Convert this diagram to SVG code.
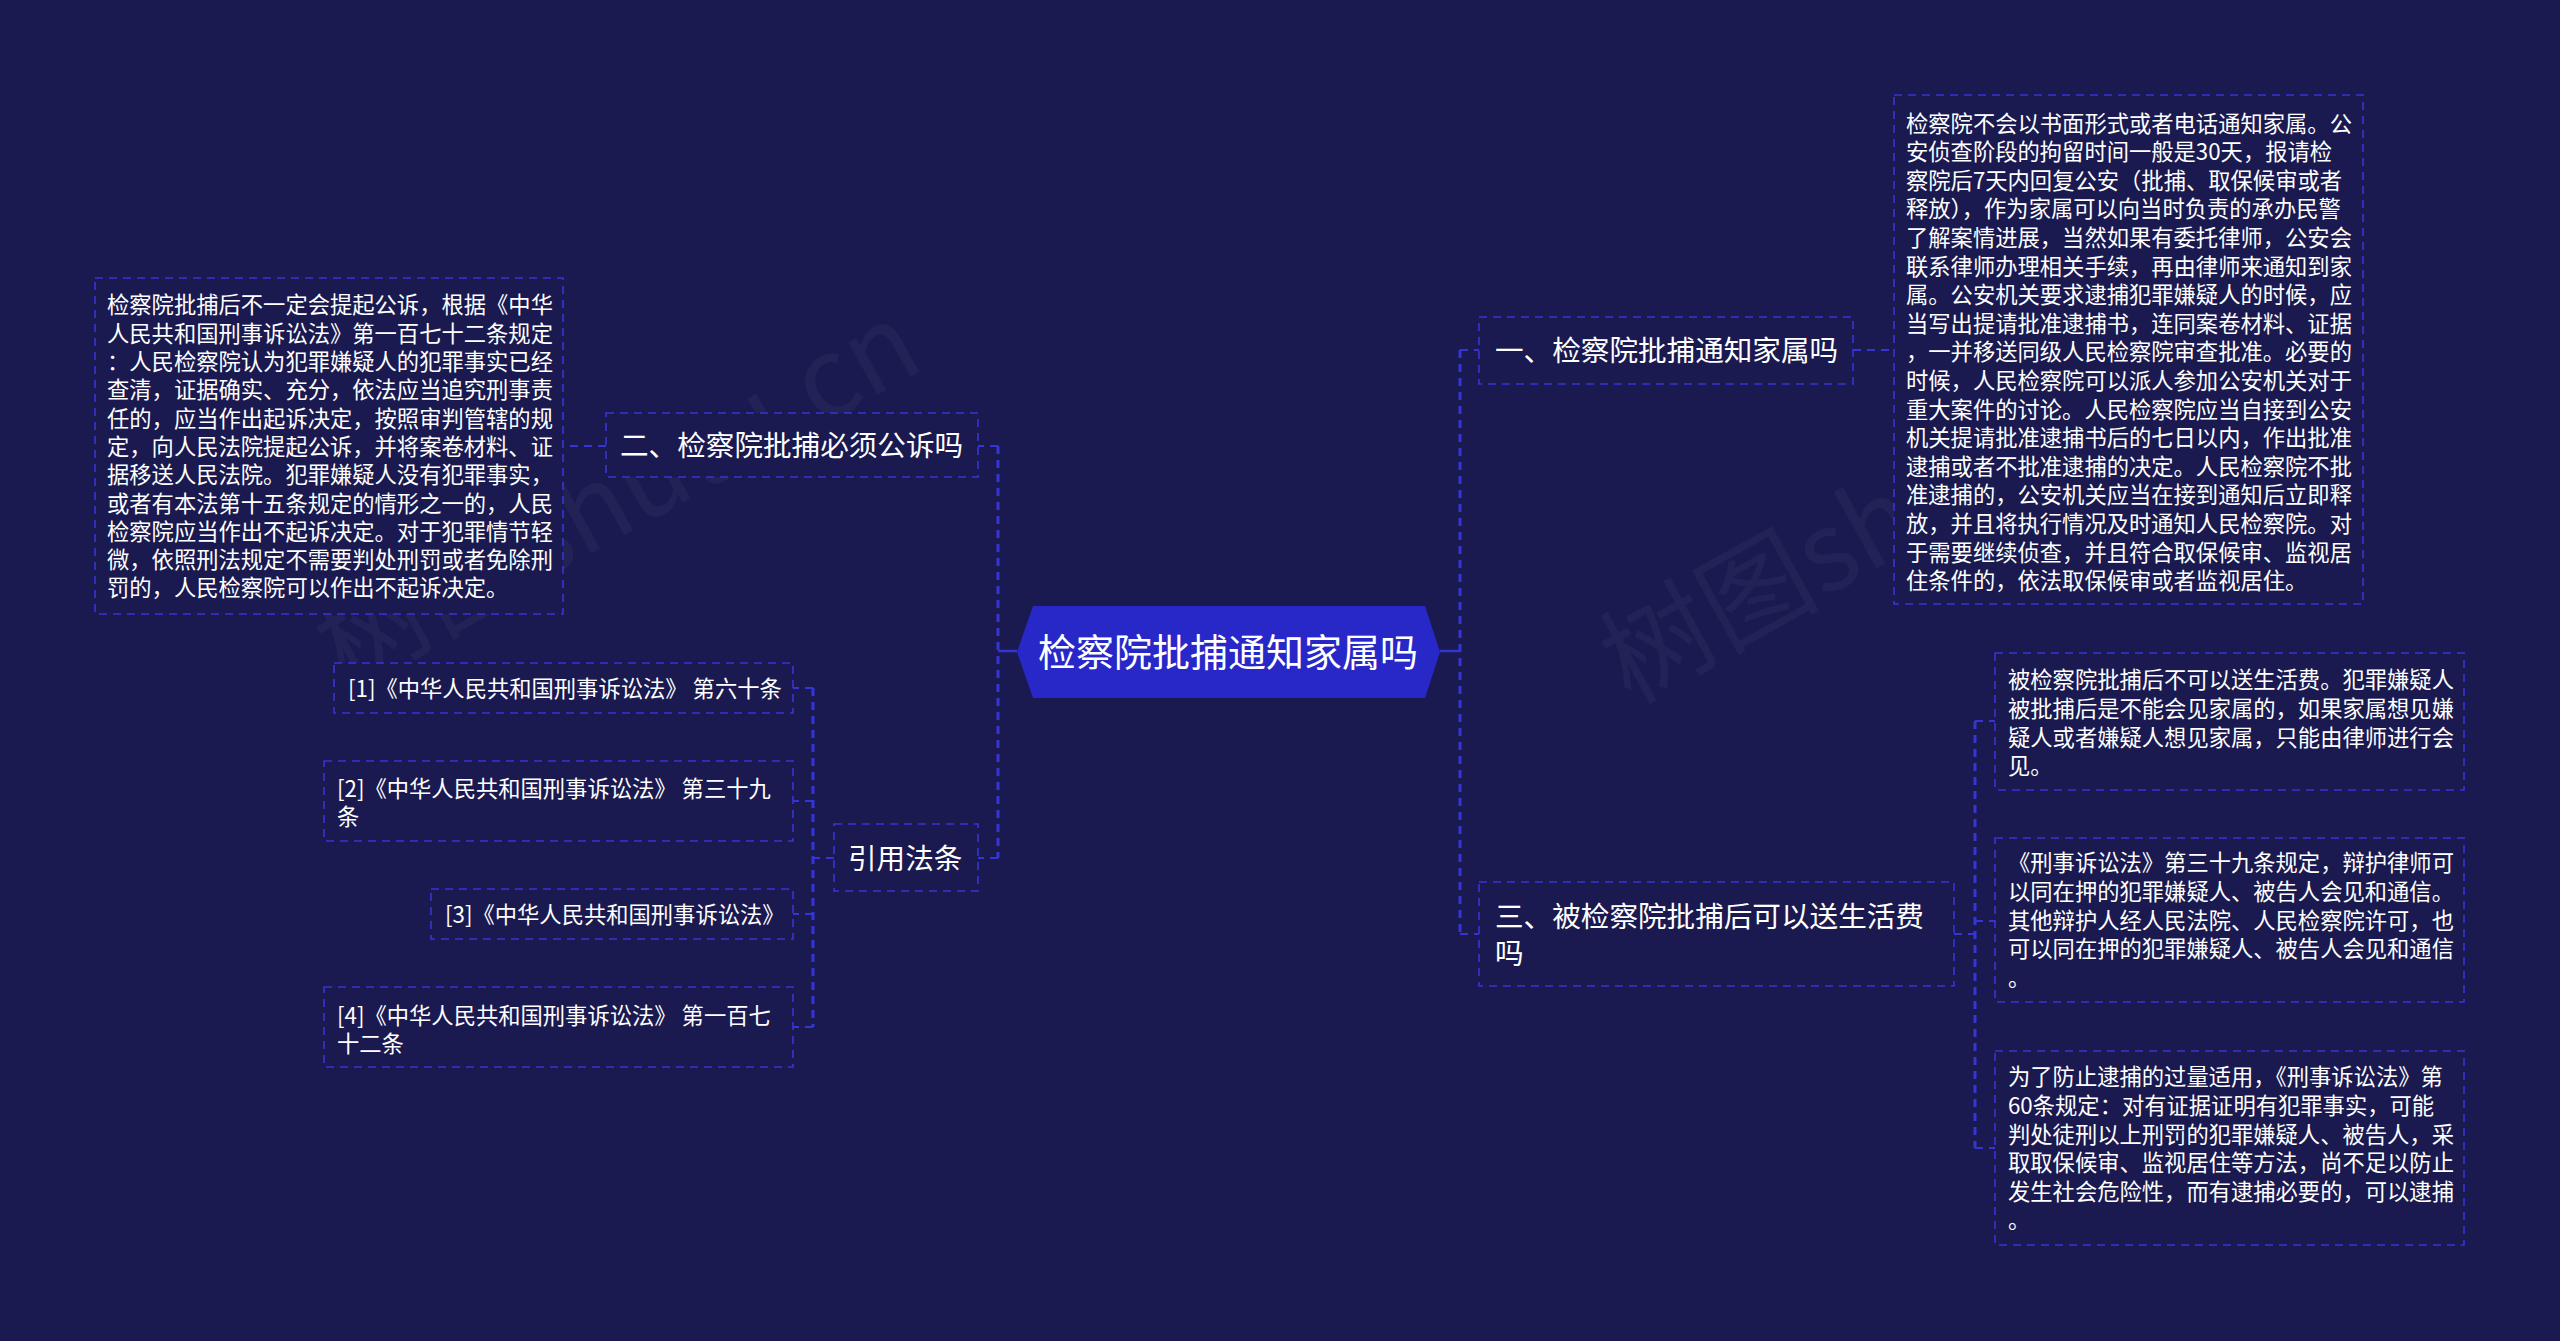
<svg xmlns="http://www.w3.org/2000/svg" width="2560" height="1341" viewBox="0 0 2560 1341">
<style>
.bg{fill:#1a1a50}
.box{fill:#1a1a50;stroke:#3535d6;stroke-width:1.6;stroke-dasharray:8 6}
.con{fill:none;stroke:#3535d6;stroke-width:2;stroke-dasharray:8 6}
.trunk{fill:none;stroke:#3535d6;stroke-width:3;stroke-dasharray:8 6}
.solid{fill:none;stroke:#3535d6;stroke-width:2.5}
.t{font-family:"Noto Sans CJK SC","Noto Sans",sans-serif;fill:#ffffff}
.title{font-size:28.6px}
.body{font-size:22.3px}
.wm{font-family:"Noto Sans CJK SC","Noto Sans",sans-serif;font-size:110px;fill:#ffffff;opacity:0.03}
</style>
<rect class="bg" x="0" y="0" width="2560" height="1341"/>
<g id="watermark">
<text class="wm" transform="translate(345 690) rotate(-29)">树图shutu.cn</text>
<text class="wm" transform="translate(1630 705) rotate(-29)">树图shutu.cn</text>
</g>
<g id="connectors">
<path class="solid" d="M1440 651 H1460"/>
<path class="trunk" d="M1460 350 V934"/>
<path class="con" d="M1460 350 H1479 M1460 934 H1479"/>
<path class="con" d="M1853 350 H1894"/>
<path class="con" d="M1954 934 H1975"/>
<path class="trunk" d="M1975 721 V1148"/>
<path class="con" d="M1975 721 H1995 M1975 921 H1995 M1975 1148 H1995"/>
<path class="solid" d="M1017 651 H998"/>
<path class="trunk" d="M998 446 V858"/>
<path class="con" d="M998 446 H978 M998 858 H978"/>
<path class="con" d="M606 446 H563"/>
<path class="con" d="M834 858 H813"/>
<path class="trunk" d="M813 688 V1027"/>
<path class="con" d="M813 688 H793 M813 801 H793 M813 914 H793 M813 1027 H793"/>
</g>
<g id="center">
<polygon points="1017,652 1033,606 1425,606 1440,652 1425,698 1033,698" fill="#2828c8"/>
<text class="t" x="1228" y="666" font-size="38" text-anchor="middle">检察院批捕通知家属吗</text>
</g>
<g id="n1">
<rect class="box" x="1479" y="317" width="374" height="67"/>
<text class="t title" x="1495" y="361">一、检察院批捕通知家属吗</text>
</g>
<g id="n1a">
<rect class="box" x="1894" y="95" width="469" height="509"/>
<text class="t body" x="1906" y="131.5">
<tspan x="1906">检察院不会以书面形式或者电话通知家属。公</tspan>
<tspan x="1906" dy="28.6">安侦查阶段的拘留时间一般是30天，报请检</tspan>
<tspan x="1906" dy="28.6">察院后7天内回复公安（批捕、取保候审或者</tspan>
<tspan x="1906" dy="28.6">释放），作为家属可以向当时负责的承办民警</tspan>
<tspan x="1906" dy="28.6">了解案情进展，当然如果有委托律师，公安会</tspan>
<tspan x="1906" dy="28.6">联系律师办理相关手续，再由律师来通知到家</tspan>
<tspan x="1906" dy="28.6">属。公安机关要求逮捕犯罪嫌疑人的时候，应</tspan>
<tspan x="1906" dy="28.6">当写出提请批准逮捕书，连同案卷材料、证据</tspan>
<tspan x="1906" dy="28.6">，一并移送同级人民检察院审查批准。必要的</tspan>
<tspan x="1906" dy="28.6">时候，人民检察院可以派人参加公安机关对于</tspan>
<tspan x="1906" dy="28.6">重大案件的讨论。人民检察院应当自接到公安</tspan>
<tspan x="1906" dy="28.6">机关提请批准逮捕书后的七日以内，作出批准</tspan>
<tspan x="1906" dy="28.6">逮捕或者不批准逮捕的决定。人民检察院不批</tspan>
<tspan x="1906" dy="28.6">准逮捕的，公安机关应当在接到通知后立即释</tspan>
<tspan x="1906" dy="28.6">放，并且将执行情况及时通知人民检察院。对</tspan>
<tspan x="1906" dy="28.6">于需要继续侦查，并且符合取保候审、监视居</tspan>
<tspan x="1906" dy="28.6">住条件的，依法取保候审或者监视居住。</tspan>
</text>
</g>
<g id="n3">
<rect class="box" x="1479" y="882" width="475" height="104"/>
<text class="t title" x="1495" y="926.5">
<tspan x="1495">三、被检察院批捕后可以送生活费</tspan>
<tspan x="1495" dy="37.5">吗</tspan>
</text>
</g>
<g id="n3a">
<rect class="box" x="1995" y="653" width="469" height="137"/>
<text class="t body" x="2008" y="688.4">
<tspan x="2008">被检察院批捕后不可以送生活费。犯罪嫌疑人</tspan>
<tspan x="2008" dy="28.6">被批捕后是不能会见家属的，如果家属想见嫌</tspan>
<tspan x="2008" dy="28.6">疑人或者嫌疑人想见家属，只能由律师进行会</tspan>
<tspan x="2008" dy="28.6">见。</tspan>
</text>
</g>
<g id="n3b">
<rect class="box" x="1995" y="838" width="469" height="164"/>
<text class="t body" x="2008" y="871.4">
<tspan x="2008">《刑事诉讼法》第三十九条规定，辩护律师可</tspan>
<tspan x="2008" dy="28.6">以同在押的犯罪嫌疑人、被告人会见和通信。</tspan>
<tspan x="2008" dy="28.6">其他辩护人经人民法院、人民检察院许可，也</tspan>
<tspan x="2008" dy="28.6">可以同在押的犯罪嫌疑人、被告人会见和通信</tspan>
<tspan x="2008" dy="28.6">。</tspan>
</text>
</g>
<g id="n3c">
<rect class="box" x="1995" y="1051" width="469" height="194"/>
<text class="t body" x="2008" y="1085.4">
<tspan x="2008">为了防止逮捕的过量适用，《刑事诉讼法》第</tspan>
<tspan x="2008" dy="28.6">60条规定：对有证据证明有犯罪事实，可能</tspan>
<tspan x="2008" dy="28.6">判处徒刑以上刑罚的犯罪嫌疑人、被告人，采</tspan>
<tspan x="2008" dy="28.6">取取保候审、监视居住等方法，尚不足以防止</tspan>
<tspan x="2008" dy="28.6">发生社会危险性，而有逮捕必要的，可以逮捕</tspan>
<tspan x="2008" dy="28.6">。</tspan>
</text>
</g>
<g id="n2">
<rect class="box" x="606" y="413" width="372" height="64"/>
<text class="t title" x="620" y="456">二、检察院批捕必须公诉吗</text>
</g>
<g id="n2a">
<rect class="box" x="95" y="278" width="468" height="336"/>
<text class="t body" x="107" y="313.4">
<tspan x="107">检察院批捕后不一定会提起公诉，根据《中华</tspan>
<tspan x="107" dy="28.3">人民共和国刑事诉讼法》第一百七十二条规定</tspan>
<tspan x="107" dy="28.3">：人民检察院认为犯罪嫌疑人的犯罪事实已经</tspan>
<tspan x="107" dy="28.3">查清，证据确实、充分，依法应当追究刑事责</tspan>
<tspan x="107" dy="28.3">任的，应当作出起诉决定，按照审判管辖的规</tspan>
<tspan x="107" dy="28.3">定，向人民法院提起公诉，并将案卷材料、证</tspan>
<tspan x="107" dy="28.3">据移送人民法院。犯罪嫌疑人没有犯罪事实，</tspan>
<tspan x="107" dy="28.3">或者有本法第十五条规定的情形之一的，人民</tspan>
<tspan x="107" dy="28.3">检察院应当作出不起诉决定。对于犯罪情节轻</tspan>
<tspan x="107" dy="28.3">微，依照刑法规定不需要判处刑罚或者免除刑</tspan>
<tspan x="107" dy="28.3">罚的，人民检察院可以作出不起诉决定。</tspan>
</text>
</g>
<g id="n4">
<rect class="box" x="834" y="824" width="144" height="67"/>
<text class="t title" x="848" y="868.5">引用法条</text>
</g>
<g id="ref1">
<rect class="box" x="334" y="663" width="459" height="50"/>
<text class="t body" x="348" y="696.5">[1]《中华人民共和国刑事诉讼法》 第六十条</text>
</g>
<g id="ref2">
<rect class="box" x="324" y="761" width="469" height="80"/>
<text class="t body" x="337" y="796.5">
<tspan x="337">[2]《中华人民共和国刑事诉讼法》 第三十九</tspan>
<tspan x="337" dy="28.5">条</tspan>
</text>
</g>
<g id="ref3">
<rect class="box" x="431" y="889" width="362" height="50"/>
<text class="t body" x="445" y="923">[3]《中华人民共和国刑事诉讼法》</text>
</g>
<g id="ref4">
<rect class="box" x="324" y="987" width="469" height="80"/>
<text class="t body" x="337" y="1023.5">
<tspan x="337">[4]《中华人民共和国刑事诉讼法》 第一百七</tspan>
<tspan x="337" dy="28.5">十二条</tspan>
</text>
</g>
</svg>
